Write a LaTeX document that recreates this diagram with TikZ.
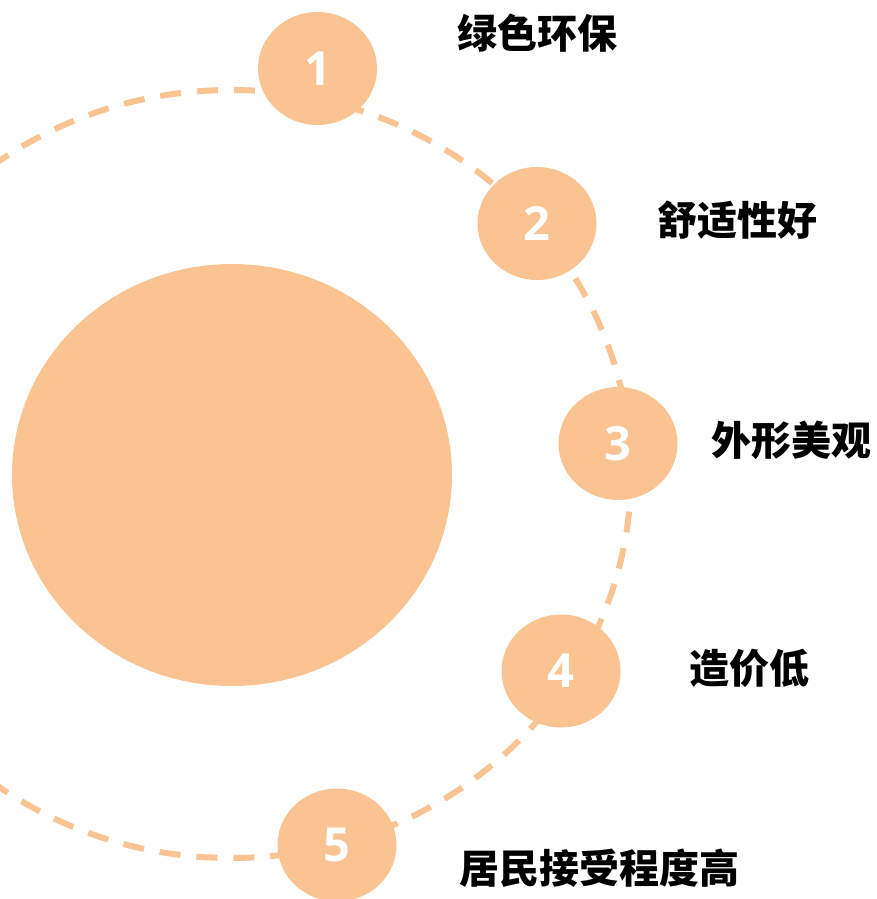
\documentclass[tikz,border=0pt]{standalone}
\usepackage{fontspec}
\usetikzlibrary{shapes.geometric}
\newfontfamily\cjk{Noto Sans CJK SC}
\newfontfamily\numfont{Open Sans}
\definecolor{peach}{HTML}{F9C392}
\tikzset{
  numc/.style={ellipse, fill=peach, minimum width=119pt, minimum height=113pt, inner sep=0pt,
    text=white, font=\numfont\bfseries\fontsize{47}{47}\selectfont},
  lab/.style={anchor=west, inner sep=0pt, text=black, font=\cjk\bfseries\fontsize{40}{40}\selectfont},
  ring/.style={draw=peach, line width=6pt, dash pattern=on 21pt off 16pt}
}
\begin{document}
\begin{tikzpicture}[x=1pt,y=-1pt]
\useasboundingbox (0,0) rectangle (877,899);
\clip (0,0) rectangle (877,899);
\draw[ring] (231,474) ellipse [x radius=400pt, y radius=384pt];
\fill[peach] (232,475) ellipse [x radius=220pt, y radius=211pt];
\node[numc] (n1) at (317.5,68.5) {1};
\node[numc] (n2) at (537,223.5) {2};
\node[numc] (n3) at (618,443.5) {3};
\node[numc] (n4) at (561,671) {4};
\node[numc] (n5) at (337,845) {5};
\node[lab] (t1) at (457,33) {绿色环保};
\node[lab] (t2) at (657,220) {舒适性好};
\node[lab] (t3) at (711,440) {外形美观};
\node[lab] (t4) at (689,668) {造价低};
\node[lab] (t5) at (459,868) {居民接受程度高};
\end{tikzpicture}
\end{document}
